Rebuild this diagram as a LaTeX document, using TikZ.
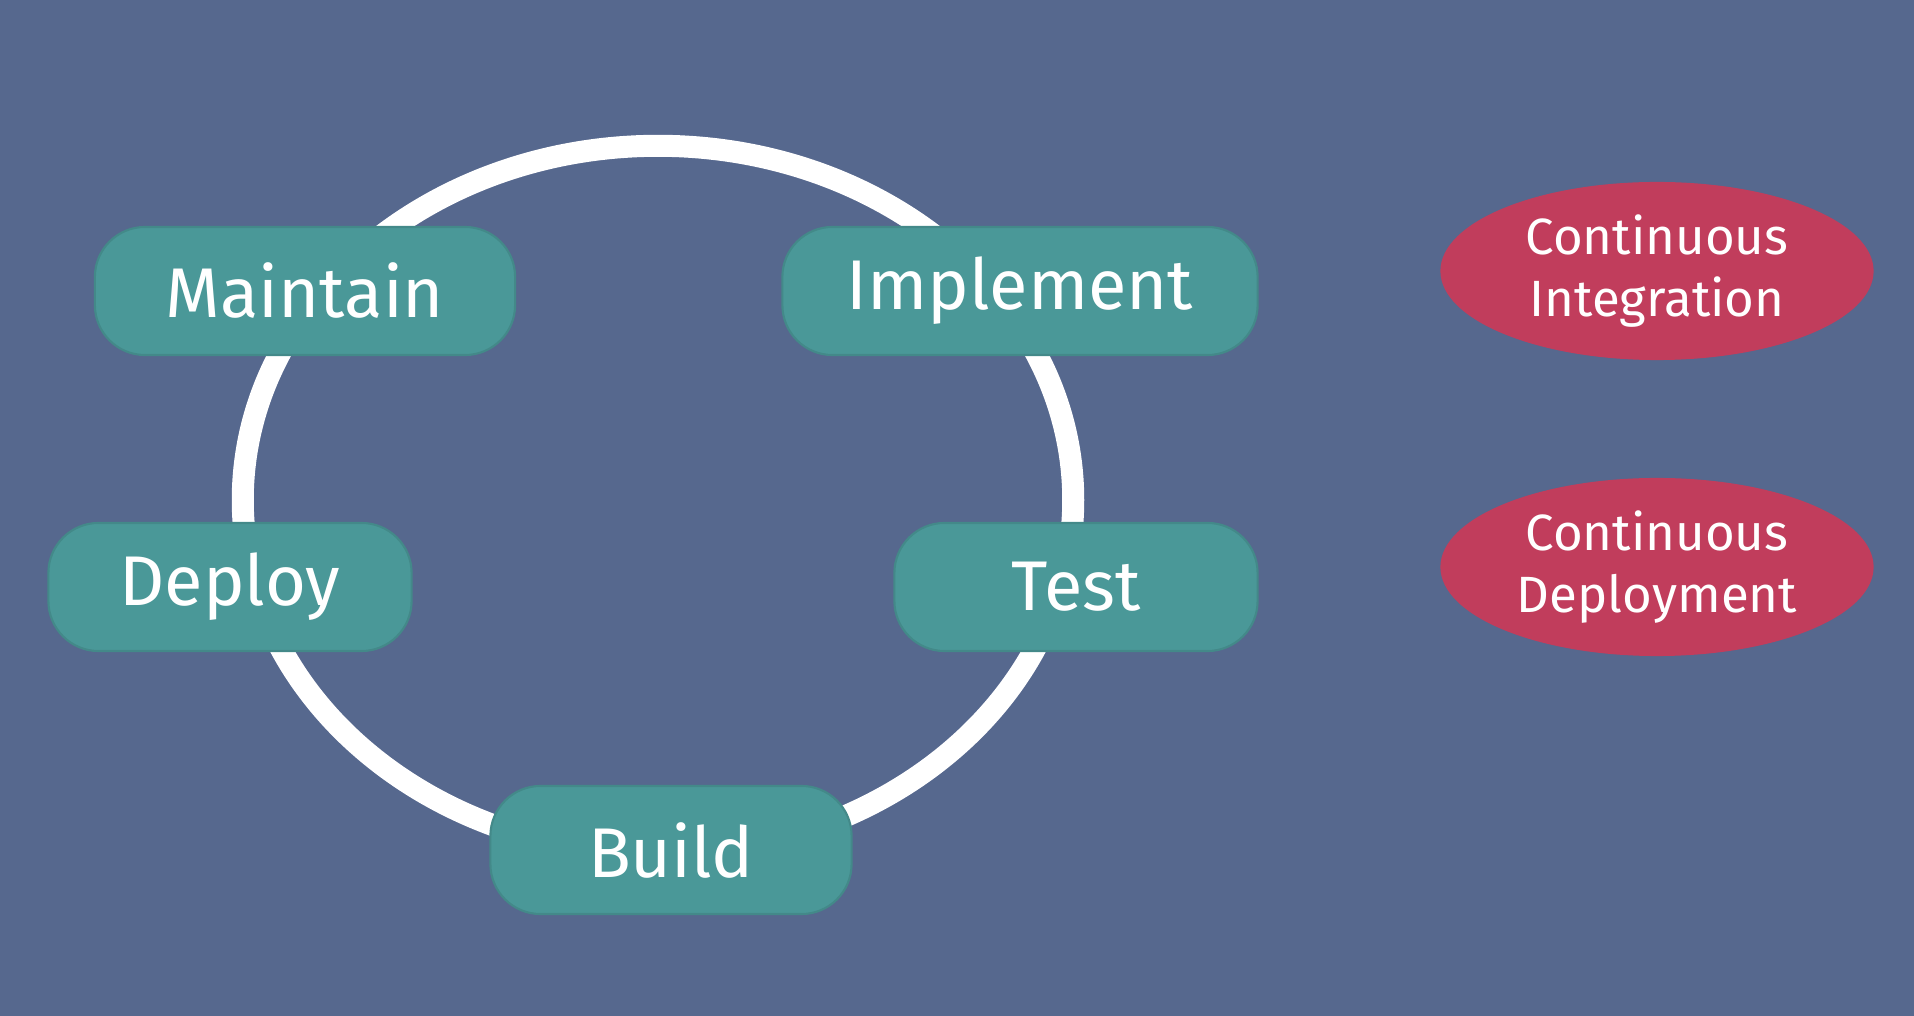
\documentclass[tikz,border=0pt]{standalone}
\usepackage{fontspec}
\setmainfont{Fira Sans}
\usetikzlibrary{shapes.geometric}
\definecolor{slateblue}{HTML}{56688E}
\definecolor{stageteal}{HTML}{4A9898}
\definecolor{cired}{HTML}{C13D5C}
\begin{document}
\begin{tikzpicture}[x=0.01cm, y=-0.01cm,
        stage/.style={fill=stageteal, draw=stageteal!90!black, line width=0.6pt, minimum height=1.28cm, align=center, text=white, font=\fontsize{20}{24}\selectfont, rounded corners=0.5cm},
        practice/.style={ellipse, fill=cired, minimum width=4.33cm, minimum height=1.78cm, inner sep=0pt, align=center, text=white, font=\fontsize{14.5}{17.5}\selectfont},
        ring/.style={draw=white, line width=0.22cm}
      ]

      % Background
      \fill[slateblue] (0,0) rectangle (1914,1016);

      % Cycle ring
      \draw[ring] (658,500) ellipse [x radius=4.15cm, y radius=3.54cm];

      % Stages on the ring
      \node[stage, minimum width=4.2cm] (maintain) at (305, 291) {Maintain};
      \node[stage, minimum width=4.75cm] (implement) at (1020, 291) {Implement};
      \node[stage, minimum width=3.63cm] (deploy) at (230, 587) {Deploy};
      \node[stage, minimum width=3.63cm] (test) at (1076, 587) {Test};
      \node[stage, minimum width=3.61cm] (build) at (671, 850) {Build};

      % Practices
      \node[practice] (ci) at (1657, 271) {Continuous\\Integration};
      \node[practice] (cd) at (1657, 567) {Continuous\\Deployment};

    \end{tikzpicture}
\end{document}
